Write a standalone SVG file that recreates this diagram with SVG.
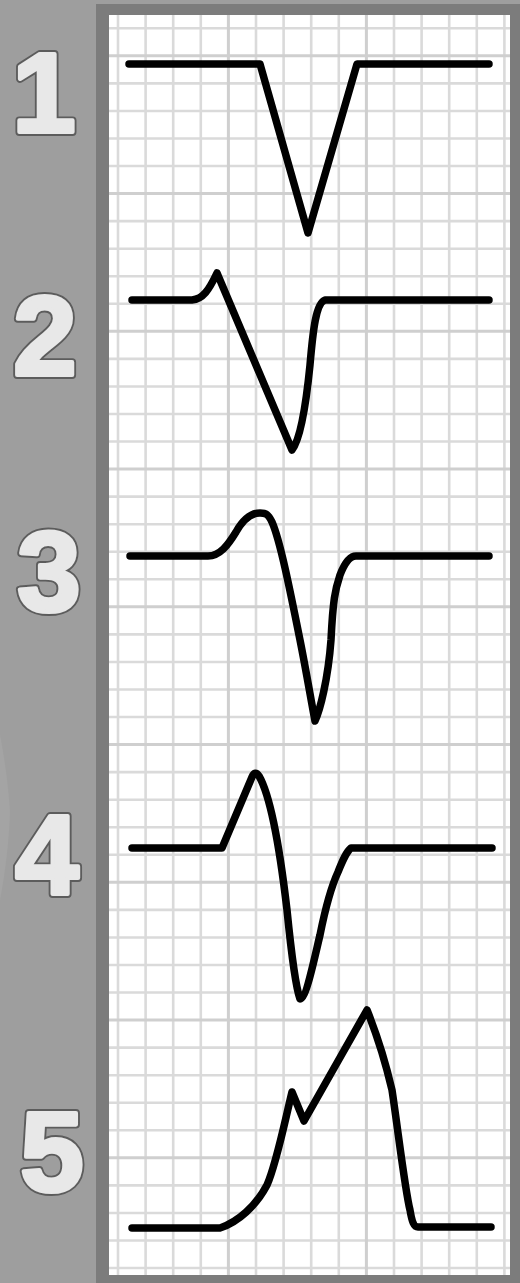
<svg xmlns="http://www.w3.org/2000/svg" width="520" height="1283" viewBox="0 0 520 1283">
<style>
.num{font-family:"Liberation Sans",Arial,sans-serif;font-weight:bold;font-size:114px;text-anchor:middle;stroke-linejoin:round}
.o{fill:#5c5c5c;stroke:#5c5c5c;stroke-width:8}
.i{fill:#e8e8e8;stroke:#e8e8e8;stroke-width:4.2}
.g{stroke:#dadada;stroke-width:2.6;fill:none}
.gm{stroke:#cfcfcf;stroke-width:3;fill:none}
.trace{fill:none;stroke:#000;stroke-width:7.5;stroke-linecap:round;stroke-linejoin:round}
</style>
<rect x="0" y="0" width="520" height="1283" fill="#9e9e9e"/>
<path d="M0,735 C6,765 9,795 10,812 C9,840 6,868 0,900 Z" fill="#a4a4a4"/>
<rect x="96" y="4" width="424" height="1279" fill="#7c7c7c"/>
<rect x="109" y="15" width="401" height="1260" fill="#ffffff"/>
<g id="grid">
<g class="g">
<line x1="118" y1="15" x2="118" y2="1275"/>
<line x1="145.6" y1="15" x2="145.6" y2="1275"/>
<line x1="173.2" y1="15" x2="173.2" y2="1275"/>
<line x1="200.8" y1="15" x2="200.8" y2="1275"/>
<line x1="256" y1="15" x2="256" y2="1275"/>
<line x1="283.6" y1="15" x2="283.6" y2="1275"/>
<line x1="311.2" y1="15" x2="311.2" y2="1275"/>
<line x1="338.8" y1="15" x2="338.8" y2="1275"/>
<line x1="394" y1="15" x2="394" y2="1275"/>
<line x1="421.6" y1="15" x2="421.6" y2="1275"/>
<line x1="449.2" y1="15" x2="449.2" y2="1275"/>
<line x1="476.8" y1="15" x2="476.8" y2="1275"/>
<line x1="504.4" y1="15" x2="504.4" y2="1275"/>
<line x1="109" y1="28.3" x2="510" y2="28.3"/>
<line x1="109" y1="83.4" x2="510" y2="83.4"/>
<line x1="109" y1="110.95" x2="510" y2="110.95"/>
<line x1="109" y1="138.5" x2="510" y2="138.5"/>
<line x1="109" y1="166.05" x2="510" y2="166.05"/>
<line x1="109" y1="221.15" x2="510" y2="221.15"/>
<line x1="109" y1="248.7" x2="510" y2="248.7"/>
<line x1="109" y1="276.25" x2="510" y2="276.25"/>
<line x1="109" y1="303.8" x2="510" y2="303.8"/>
<line x1="109" y1="358.9" x2="510" y2="358.9"/>
<line x1="109" y1="386.45" x2="510" y2="386.45"/>
<line x1="109" y1="414" x2="510" y2="414"/>
<line x1="109" y1="441.55" x2="510" y2="441.55"/>
<line x1="109" y1="496.65" x2="510" y2="496.65"/>
<line x1="109" y1="524.2" x2="510" y2="524.2"/>
<line x1="109" y1="551.75" x2="510" y2="551.75"/>
<line x1="109" y1="579.3" x2="510" y2="579.3"/>
<line x1="109" y1="634.4" x2="510" y2="634.4"/>
<line x1="109" y1="661.95" x2="510" y2="661.95"/>
<line x1="109" y1="689.5" x2="510" y2="689.5"/>
<line x1="109" y1="717.05" x2="510" y2="717.05"/>
<line x1="109" y1="772.15" x2="510" y2="772.15"/>
<line x1="109" y1="799.7" x2="510" y2="799.7"/>
<line x1="109" y1="827.25" x2="510" y2="827.25"/>
<line x1="109" y1="854.8" x2="510" y2="854.8"/>
<line x1="109" y1="909.9" x2="510" y2="909.9"/>
<line x1="109" y1="937.45" x2="510" y2="937.45"/>
<line x1="109" y1="965" x2="510" y2="965"/>
<line x1="109" y1="992.55" x2="510" y2="992.55"/>
<line x1="109" y1="1047.65" x2="510" y2="1047.65"/>
<line x1="109" y1="1075.2" x2="510" y2="1075.2"/>
<line x1="109" y1="1102.75" x2="510" y2="1102.75"/>
<line x1="109" y1="1130.3" x2="510" y2="1130.3"/>
<line x1="109" y1="1185.4" x2="510" y2="1185.4"/>
<line x1="109" y1="1212.95" x2="510" y2="1212.95"/>
<line x1="109" y1="1240.5" x2="510" y2="1240.5"/>
<line x1="109" y1="1268.05" x2="510" y2="1268.05"/>
</g>
<g class="gm">
<line x1="228.4" y1="15" x2="228.4" y2="1275"/>
<line x1="366.4" y1="15" x2="366.4" y2="1275"/>
<line x1="109" y1="55.85" x2="510" y2="55.85"/>
<line x1="109" y1="193.6" x2="510" y2="193.6"/>
<line x1="109" y1="331.35" x2="510" y2="331.35"/>
<line x1="109" y1="469.1" x2="510" y2="469.1"/>
<line x1="109" y1="606.85" x2="510" y2="606.85"/>
<line x1="109" y1="744.6" x2="510" y2="744.6"/>
<line x1="109" y1="882.35" x2="510" y2="882.35"/>
<line x1="109" y1="1020.1" x2="510" y2="1020.1"/>
<line x1="109" y1="1157.85" x2="510" y2="1157.85"/>
</g>
</g>
<g id="label-1"><text class="num o" x="44" y="132">1</text><text class="num i" x="44" y="132">1</text></g>
<g id="label-2"><text class="num o" x="45" y="375">2</text><text class="num i" x="45" y="375">2</text></g>
<g id="label-3"><text class="num o" x="49" y="611">3</text><text class="num i" x="49" y="611">3</text></g>
<g id="label-4"><text class="num o" x="47" y="894">4</text><text class="num i" x="47" y="894">4</text></g>
<g id="label-5"><text class="num o" x="52" y="1191">5</text><text class="num i" x="52" y="1191">5</text></g>
<g id="connectors"></g>
<g id="trace-1"><path class="trace" d="M129,64 L260,64 L308,233 L357,64 L489,64"/></g>
<g id="trace-2"><path class="trace" d="M132,300 L192,300 C203,299 209,290 217,273 L292,450 C300,440 306,405 310,365 C313,330 316,303 325,300 L489,300"/></g>
<g id="trace-3"><path class="trace" d="M130,556 L208,556 C220,556 228,545 236,532 C244,518 252,513 260,513 C266,513 268,514 272,522 C280,540 290,590 300,640 C306,670 311,700 315,721 C320,710 328,680 331,640 C333,600 335,590 340,575 C345,562 350,556 356,556 L489,556"/></g>
<g id="trace-4"><path class="trace" d="M132,848 L222,848 L252,777 Q255,770 259,776 C270,795 280,850 287,910 C291,950 295,985 300,999 C306,999 314,960 320,935 C326,905 332,885 338,872 C342,862 346,852 351,848 L492,848"/></g>
<g id="trace-5"><path class="trace" d="M132,1228 L220,1228 C238,1222 256,1206 267,1185 C276,1165 284,1125 292,1092 L304,1121 L367,1010 C375,1030 385,1060 392,1090 C398,1130 405,1190 410,1210 C412,1222 414,1227 418,1227 L491,1227"/></g>
</svg>
